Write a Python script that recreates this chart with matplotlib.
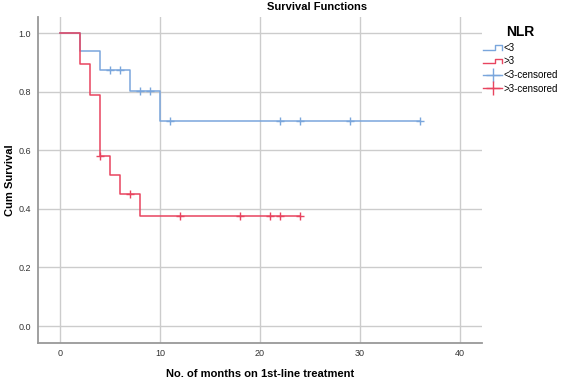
import matplotlib
matplotlib.use("Agg")
import matplotlib.pyplot as plt
from matplotlib.lines import Line2D
from matplotlib.legend_handler import HandlerBase

plt.rcParams["font.family"] = ["Liberation Sans", "DejaVu Sans"]

# <3 group: step times and survival after each drop
low_t = [0, 2, 4, 7, 10, 36]
low_s = [1.0, 0.9375, 0.875, 0.802, 0.70, 0.70]
low_cens_t = [5, 6, 8, 9, 11, 22, 24, 29, 36]
low_cens_s = [0.875, 0.875, 0.802, 0.802, 0.70, 0.70, 0.70, 0.70, 0.70]

# >3 group
high_t = [0, 2, 3, 4, 5, 6, 8, 24]
high_s = [1.0, 0.895, 0.789, 0.579, 0.515, 0.451, 0.376, 0.376]
high_cens_t = [4, 7, 12, 18, 21, 22, 24]
high_cens_s = [0.579, 0.451, 0.376, 0.376, 0.376, 0.376, 0.376]

blue = "#7aa6dc"
red = "#e8445f"

xticks = [0, 10, 20, 30, 40]
yticks = [0.0, 0.2, 0.4, 0.6, 0.8, 1.0]


class StepHandler(HandlerBase):
    def create_artists(self, legend, orig, xd, yd, w, h, fontsize, trans):
        xs = [xd, xd + 0.6 * w, xd + 0.6 * w, xd + w, xd + w]
        ys = [yd + 0.15 * h, yd + 0.15 * h, yd + 0.75 * h, yd + 0.75 * h, yd + 0.15 * h]
        ln = Line2D(xs, ys, color=orig.get_color(), lw=1, transform=trans)
        return [ln]


fig = plt.figure(figsize=(5.61, 3.81), dpi=100)
ax = fig.add_axes([38 / 561, 38 / 381, 444 / 561, 326 / 381])

ax.step(low_t, low_s, where="post", color=blue, lw=1.1)
ax.step(high_t, high_s, where="post", color=red, lw=1.1)
ax.plot(low_cens_t, low_cens_s, "+", color=blue, ms=6, mew=1)
ax.plot(high_cens_t, high_cens_s, "+", color=red, ms=6, mew=1)

ax.set_xlim(-2.2, 42.2)
ax.set_ylim(-0.058, 1.055)
ax.set_xticks(xticks)
ax.set_yticks(yticks)
ax.set_yticklabels(["%.1f" % v for v in yticks])
ax.grid(True, color="#cccccc", lw=1)
ax.set_axisbelow(True)
ax.tick_params(length=0, labelsize=6.5, colors="#333333")
ax.tick_params(axis="y", pad=5)
ax.tick_params(axis="x", pad=4)
for s in ["top", "right"]:
    ax.spines[s].set_visible(False)
for s in ["left", "bottom"]:
    ax.spines[s].set_color("#999999")
    ax.spines[s].set_linewidth(1.3)

fig.text(260 / 561, 1 - 374 / 381, "No. of months on 1st-line treatment", ha="center",
         va="center", fontsize=8, fontweight="bold")
fig.text(10 / 561, 1 - 180 / 381, "Cum Survival", ha="center", va="center",
         rotation=90, fontsize=8, fontweight="bold")
fig.text(317 / 561, 1 - 7 / 381, "Survival Functions", ha="center", va="center",
         fontsize=8, fontweight="bold")

h1 = Line2D([], [], color=blue)
h2 = Line2D([], [], color=red)
h3 = Line2D([0, 1], [0, 0], color=blue, marker="+", ms=10, markevery=[0], lw=1)
h4 = Line2D([0, 1], [0, 0], color=red, marker="+", ms=10, markevery=[0], lw=1)
leg = fig.legend([h1, h2, h3, h4], ["<3", ">3", "<3-censored", ">3-censored"],
                 handler_map={h1: StepHandler(), h2: StepHandler()},
                 loc="upper left", bbox_to_anchor=(479 / 561, 1 - 21 / 381),
                 frameon=False, fontsize=7, title="NLR", handlelength=2.0,
                 handletextpad=0.15, labelspacing=0.38, borderaxespad=0)
leg.get_title().set_fontweight("bold")
leg.get_title().set_fontsize(10)
leg._legend_box.align = "center"

fig.savefig("out.png", dpi=100)
